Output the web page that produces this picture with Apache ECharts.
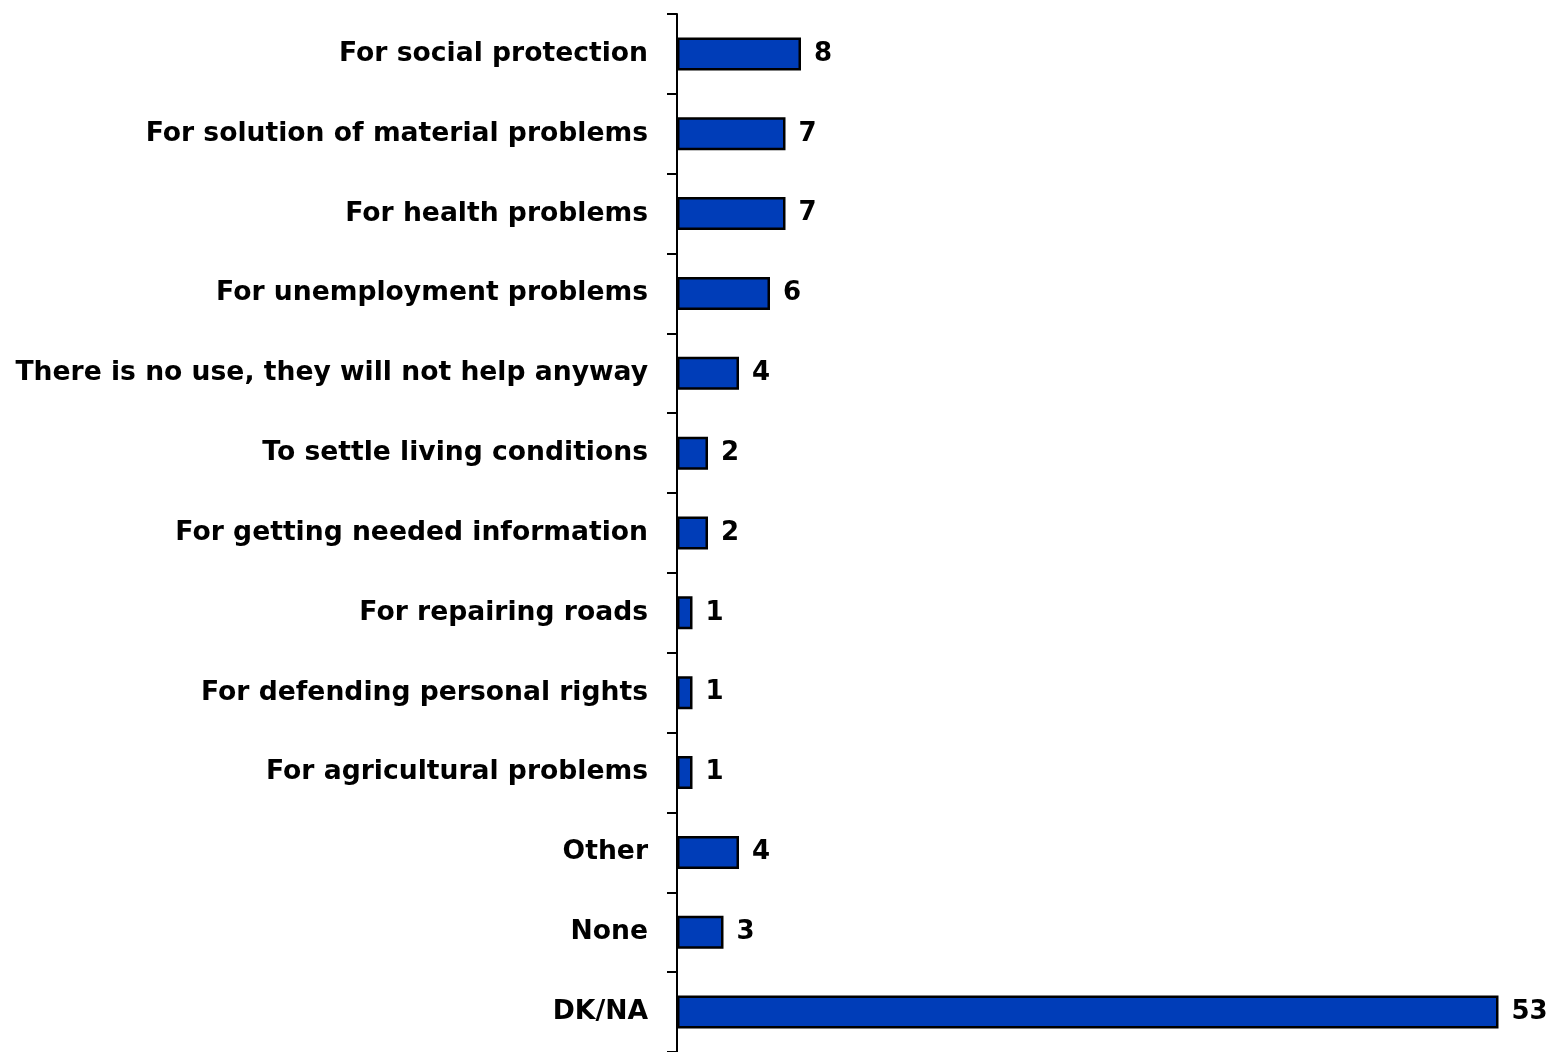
<!DOCTYPE html>
<html><head><meta charset="utf-8">
<script src="https://cdn.jsdelivr.net/npm/echarts@6/dist/echarts.min.js"></script>
<style>html,body{margin:0;padding:0;background:#fff}#c{width:1552px;height:1052px}</style>
</head><body><div id="c"></div>
<script>
const categories = [
  "For social protection",
  "For solution of material problems",
  "For health problems",
  "For unemployment problems",
  "There is no use, they will not help anyway",
  "To settle living conditions",
  "For getting needed information",
  "For repairing roads",
  "For defending personal rights",
  "For agricultural problems",
  "Other",
  "None",
  "DK/NA"
];
const values = [8, 7, 7, 6, 4, 2, 2, 1, 1, 1, 4, 3, 53];

const chart = echarts.init(document.getElementById('c'), null, {renderer: 'canvas'});
chart.setOption({
  animation: false,
  backgroundColor: '#ffffff',
  grid: {left: 677, top: 14, width: 868, height: 1044, containLabel: false},
  xAxis: {
    type: 'value', min: 0, max: 56, show: false,
    splitLine: {show: false}
  },
  yAxis: {
    type: 'category', data: categories, inverse: true,
    axisLine: {show: true, lineStyle: {color: '#000', width: 2}},
    axisTick: {show: true, length: 10, inside: false, lineStyle: {color: '#000', width: 2}},
    axisLabel: {
      margin: 29, color: '#000', fontFamily: 'DejaVu Sans, sans-serif',
      fontWeight: 'bold', fontSize: 26.6, padding: [8, 0, 0, 0]
    },
    splitLine: {show: false}
  },
  series: [{
    type: 'bar', data: values, barWidth: 33,
    itemStyle: {color: '#003DB8', borderColor: '#000', borderWidth: 2.5},
    label: {
      show: true, position: 'right', distance: 13, color: '#000',
      fontFamily: 'DejaVu Sans, sans-serif', fontWeight: 'bold', fontSize: 26,
      padding: [8, 0, 0, 0]
    }
  }]
});
</script></body></html>
